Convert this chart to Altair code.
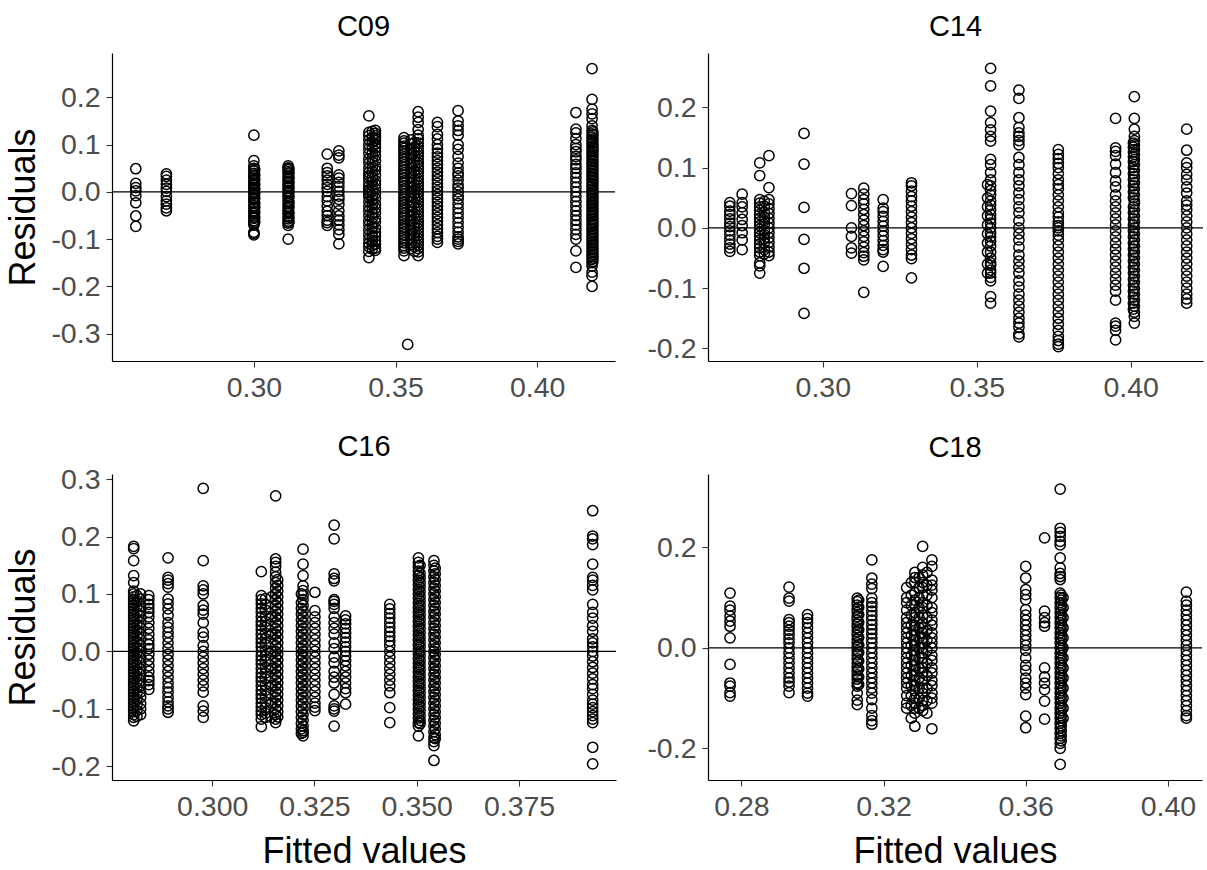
import altair as alt
import pandas as pd

# ---------------- data ----------------
c09_fitted = [0.2583, 0.2691, 0.3000, 0.3121, 0.3259, 0.3300, 0.3406, 0.3429,
              0.3530, 0.3543, 0.3555, 0.3580, 0.3648, 0.3721, 0.4137, 0.4194,
              0.3003, 0.3124, 0.3418, 0.3567, 0.4197]
c09_resid = [
    [0.049, 0.018, 0.009, 0.002, -0.008, -0.023, -0.051, -0.073],
    [0.038, 0.033, 0.025, 0.016, 0.008, 0.001, -0.01, -0.019, -0.026, -0.034, -0.04],
    [0.12, 0.066, 0.055, 0.05, 0.044, 0.039, 0.034, 0.029, 0.024, 0.019, 0.014, 0.009, 0.004, 0.0,
     -0.005, -0.011, -0.016, -0.022, -0.029, -0.035, -0.04, -0.046, -0.051, -0.056, -0.061, -0.066,
     -0.07, -0.085, -0.088, -0.091],
    [0.055, 0.051, 0.047, 0.043, 0.038, 0.033, 0.028, 0.023, 0.018, 0.013, 0.008, 0.003, -0.002,
     -0.007, -0.013, -0.019, -0.025, -0.03, -0.036, -0.041, -0.046, -0.052, -0.057, -0.062, -0.066,
     -0.071, -0.1],
    [0.08, 0.05, 0.041, 0.034, 0.025, 0.016, 0.009, 0.001, -0.01, -0.019, -0.03, -0.041, -0.05,
     -0.06, -0.065, -0.071],
    [0.087, 0.078, 0.072, 0.036, 0.029, 0.02, 0.011, 0.001, -0.009, -0.016, -0.026, -0.04, -0.051,
     -0.06, -0.07, -0.08, -0.09, -0.11],
    [0.161, 0.126, 0.119, 0.11, 0.1, 0.091, 0.081, 0.07, 0.061, 0.05, 0.041, 0.034, 0.029, 0.02,
     0.011, 0.004, -0.001, -0.006, -0.011, -0.021, -0.031, -0.04, -0.05, -0.061, -0.07, -0.08,
     -0.09, -0.1, -0.109, -0.116, -0.126, -0.139],
    [0.13, 0.124, 0.119, 0.114, 0.109, 0.101, 0.094, 0.086, 0.076, 0.066, 0.054, 0.046, 0.036,
     0.024, 0.016, 0.006, -0.004, -0.014, -0.026, -0.035, -0.044, -0.056, -0.064, -0.076, -0.086,
     -0.094, -0.104, -0.111, -0.119, -0.124],
    [0.115, 0.108, 0.103, 0.097, 0.092, 0.086, 0.08, 0.074, 0.069, 0.063, 0.057, 0.052, 0.046,
     0.04, 0.035, 0.029, 0.023, 0.018, 0.012, 0.006, 0.001, -0.005, -0.011, -0.016, -0.022, -0.028,
     -0.034, -0.039, -0.045, -0.051, -0.056, -0.062, -0.068, -0.074, -0.079, -0.085, -0.091,
     -0.097, -0.102, -0.108, -0.114, -0.119, -0.125, -0.135],
    [-0.323],
    [0.11, 0.101, 0.091, 0.08, 0.071, 0.06, 0.051, 0.04, 0.031, 0.02, 0.01, 0.0, -0.009, -0.021,
     -0.03, -0.041, -0.05, -0.061, -0.07, -0.081, -0.09, -0.1, -0.111, -0.12],
    [0.17, 0.158, 0.147, 0.132, 0.12, 0.112, 0.104, 0.097, 0.09, 0.083, 0.076, 0.069, 0.062, 0.055,
     0.048, 0.041, 0.034, 0.027, 0.02, 0.013, 0.006, -0.001, -0.008, -0.015, -0.022, -0.029,
     -0.036, -0.043, -0.05, -0.057, -0.064, -0.071, -0.078, -0.085, -0.092, -0.099, -0.106,
     -0.113, -0.12, -0.127, -0.135],
    [0.147, 0.138, 0.122, 0.112, 0.1, 0.091, 0.082, 0.074, 0.066, 0.058, 0.05, 0.042, 0.034, 0.026,
     0.018, 0.01, 0.002, -0.006, -0.014, -0.022, -0.03, -0.038, -0.046, -0.054, -0.062, -0.07,
     -0.078, -0.086, -0.094, -0.1, -0.107],
    [0.172, 0.15, 0.14, 0.13, 0.12, 0.1, 0.09, 0.075, 0.061, 0.05, 0.04, 0.034, 0.025, 0.015, 0.008,
     0.0, -0.008, -0.015, -0.025, -0.035, -0.045, -0.055, -0.065, -0.075, -0.085, -0.095, -0.1,
     -0.105, -0.11],
    [0.168, 0.133, 0.125, 0.113, 0.1, 0.092, 0.085, 0.075, 0.068, 0.058, 0.05, 0.04, 0.03, 0.02,
     0.01, 0.0, -0.01, -0.02, -0.03, -0.04, -0.05, -0.06, -0.07, -0.08, -0.09, -0.1, -0.125, -0.16],
    [0.261, 0.196, 0.175, 0.165, 0.155, 0.14, 0.13, 0.123, 0.116, 0.109, 0.102, 0.095, 0.088,
     0.081, 0.074, 0.067, 0.06, 0.053, 0.046, 0.039, 0.032, 0.025, 0.018, 0.011, 0.004, -0.003,
     -0.01, -0.017, -0.024, -0.031, -0.038, -0.045, -0.052, -0.059, -0.066, -0.073, -0.08, -0.087,
     -0.094, -0.101, -0.108, -0.115, -0.122, -0.129, -0.136, -0.143, -0.15, -0.157, -0.17, -0.178,
     -0.2],
    [0.047, 0.036, 0.026, 0.016, 0.006, -0.003, -0.013, -0.024, -0.033, -0.043, -0.054, -0.064],
    [0.049, 0.04, 0.03, 0.02, 0.01, 0.0, -0.01, -0.022, -0.032, -0.044, -0.054, -0.064],
    [0.128, 0.116, 0.105, 0.095, 0.083, 0.072, 0.063, 0.052, 0.043, 0.031, 0.022, 0.013, 0.002,
     -0.009, -0.017, -0.026, -0.036, -0.046, -0.055, -0.066, -0.075, -0.085, -0.095, -0.104,
     -0.113, -0.121],
    [0.105, 0.095, 0.085, 0.075, 0.065, 0.055, 0.045, 0.036, 0.026, 0.015, 0.005, -0.004, -0.014,
     -0.025, -0.035, -0.046, -0.056, -0.066, -0.075, -0.085, -0.095, -0.106, -0.116, -0.126],
    [0.127, 0.12, 0.112, 0.105, 0.098, 0.091, 0.085, 0.078, 0.071, 0.064, 0.057, 0.05, 0.043,
     0.036, 0.029, 0.022, 0.015, 0.007, 0.0, -0.007, -0.014, -0.021, -0.028, -0.035, -0.042,
     -0.049, -0.056, -0.063, -0.07, -0.077, -0.084, -0.091, -0.098, -0.105, -0.112, -0.119,
     -0.126, -0.133, -0.14, -0.147],
]

c14_fitted = [0.2698, 0.2738, 0.2795, 0.2825, 0.2939, 0.3093, 0.3133, 0.3196, 0.3288,
              0.3535, 0.3545, 0.3637, 0.3765, 0.3951, 0.4012, 0.4182, 0.2810, 0.4009]
c14_resid = [
    [0.042, 0.036, 0.028, 0.022, 0.015, 0.008, 0.002, -0.005, -0.012, -0.02, -0.027, -0.033, -0.039],
    [0.056, 0.042, 0.035, 0.025, 0.014, 0.004, -0.008, -0.02, -0.036],
    [0.108, 0.087, 0.047, 0.041, 0.035, 0.029, 0.022, 0.016, 0.01, 0.004, -0.002, -0.008, -0.014,
     -0.02, -0.027, -0.033, -0.04, -0.046, -0.058, -0.063, -0.075],
    [0.12, 0.067, 0.047, 0.04, 0.032, 0.024, 0.016, 0.008, 0.0, -0.008, -0.016, -0.024, -0.032,
     -0.04, -0.046],
    [0.157, 0.106, 0.034, -0.019, -0.067, -0.142],
    [0.057, 0.037, 0.0, -0.014, -0.033, -0.042],
    [0.066, 0.056, 0.047, 0.04, 0.031, 0.022, 0.013, 0.004, -0.005, -0.014, -0.023, -0.032, -0.041,
     -0.047, -0.053, -0.107],
    [0.047, 0.033, 0.027, 0.019, 0.011, 0.003, -0.005, -0.013, -0.021, -0.029, -0.036, -0.04, -0.064],
    [0.075, 0.07, 0.061, 0.052, 0.045, 0.036, 0.027, 0.018, 0.009, 0.0, -0.009, -0.018, -0.027,
     -0.036, -0.045, -0.051, -0.083],
    [0.072, 0.05, 0.035, 0.02, 0.005, -0.01, -0.025, -0.04, -0.06, -0.075],
    [0.265, 0.236, 0.194, 0.175, 0.163, 0.152, 0.144, 0.114, 0.105, 0.092, 0.08, 0.07, 0.062, 0.055,
     0.045, 0.038, 0.03, 0.022, 0.015, 0.008, 0.0, -0.008, -0.015, -0.022, -0.03, -0.04, -0.05,
     -0.058, -0.062, -0.07, -0.075, -0.082, -0.088, -0.114, -0.125],
    [0.229, 0.215, 0.183, 0.167, 0.158, 0.152, 0.145, 0.138, 0.117, 0.105, 0.092, 0.08, 0.07, 0.058,
     0.047, 0.035, 0.025, 0.012, 0.0, -0.01, -0.02, -0.032, -0.045, -0.055, -0.065, -0.075, -0.088,
     -0.098, -0.11, -0.12, -0.13, -0.14, -0.15, -0.158, -0.165, -0.176, -0.181],
    [0.13, 0.122, 0.115, 0.107, 0.1, 0.09, 0.08, 0.072, 0.065, 0.055, 0.045, 0.035, 0.025, 0.018,
     0.01, 0.004, 0.0, -0.005, -0.012, -0.02, -0.03, -0.04, -0.05, -0.06, -0.07, -0.08, -0.09, -0.1,
     -0.11, -0.12, -0.13, -0.14, -0.15, -0.16, -0.17, -0.18, -0.187, -0.193, -0.197],
    [0.182, 0.133, 0.127, 0.12, 0.106, 0.092, 0.078, 0.068, 0.055, 0.045, 0.035, 0.025, 0.015,
     0.005, -0.005, -0.015, -0.025, -0.035, -0.045, -0.055, -0.065, -0.075, -0.085, -0.095, -0.105,
     -0.12, -0.158, -0.163, -0.17, -0.186],
    [0.218, 0.182, 0.164, 0.152, 0.145, 0.138, 0.13, 0.122, 0.114, 0.105, 0.095, 0.085, 0.075,
     0.065, 0.055, 0.045, 0.04, 0.03, 0.02, 0.01, 0.0, -0.01, -0.02, -0.03, -0.04, -0.05, -0.06,
     -0.07, -0.08, -0.09, -0.1, -0.11, -0.12, -0.13, -0.14, -0.147, -0.158],
    [0.164, 0.129, 0.108, 0.1, 0.089, 0.08, 0.068, 0.058, 0.045, 0.038, 0.03, 0.02, 0.01, 0.0,
     -0.01, -0.02, -0.03, -0.04, -0.05, -0.06, -0.07, -0.08, -0.09, -0.1, -0.11, -0.118, -0.125],
    [0.044, 0.036, 0.026, 0.018, 0.012, 0.006, -0.004, -0.011, -0.018, -0.025, -0.036, -0.043],
    [0.141, 0.134, 0.126, 0.118, 0.11, 0.1, 0.09, 0.08, 0.07, 0.06, 0.05, 0.035, 0.025, 0.015,
     0.005, -0.005, -0.015, -0.025, -0.035, -0.045, -0.055, -0.065, -0.075, -0.085, -0.095, -0.105,
     -0.115, -0.125, -0.135],
]

c16_fitted = [0.2808, 0.2825, 0.2845, 0.2892, 0.2978, 0.3120, 0.3145, 0.3155, 0.3222, 0.3251,
              0.3298, 0.3326, 0.3434, 0.3504, 0.3542, 0.3930,
              0.2816, 0.3130, 0.3160, 0.3218, 0.3508, 0.3545]
c16_resid = [
    [0.183, 0.179, 0.158, 0.132, 0.12, 0.105, 0.1, 0.095, 0.09, 0.085, 0.08, 0.075, 0.07, 0.065,
     0.06, 0.055, 0.05, 0.045, 0.04, 0.035, 0.03, 0.025, 0.02, 0.015, 0.01, 0.005, 0.0, -0.005,
     -0.01, -0.015, -0.02, -0.025, -0.03, -0.035, -0.04, -0.045, -0.05, -0.055, -0.06, -0.065,
     -0.07, -0.075, -0.08, -0.085, -0.09, -0.095, -0.1, -0.105, -0.11, -0.115, -0.121],
    [0.1, 0.091, 0.079, 0.07, 0.061, 0.05, 0.041, 0.03, 0.021, 0.01, 0.0, -0.011, -0.02, -0.031,
     -0.04, -0.051, -0.06, -0.071, -0.08, -0.091, -0.1, -0.11],
    [0.097, 0.09, 0.082, 0.075, 0.068, 0.06, 0.05, 0.04, 0.03, 0.02, 0.012, 0.005, -0.005, -0.015,
     -0.025, -0.035, -0.045, -0.051, -0.058, -0.066],
    [0.163, 0.129, 0.124, 0.118, 0.112, 0.091, 0.083, 0.074, 0.063, 0.05, 0.042, 0.033, 0.025,
     0.015, 0.005, -0.005, -0.015, -0.025, -0.035, -0.045, -0.055, -0.063, -0.071, -0.08, -0.088,
     -0.095, -0.1, -0.106],
    [0.284, 0.158, 0.114, 0.107, 0.1, 0.08, 0.072, 0.065, 0.05, 0.033, 0.025, 0.01, 0.0, -0.01,
     -0.02, -0.03, -0.04, -0.05, -0.06, -0.071, -0.095, -0.104, -0.115],
    [0.139, 0.097, 0.09, 0.083, 0.075, 0.068, 0.06, 0.052, 0.045, 0.038, 0.03, 0.022, 0.015, 0.008,
     0.0, -0.008, -0.015, -0.022, -0.03, -0.038, -0.045, -0.052, -0.06, -0.068, -0.075, -0.082,
     -0.09, -0.097, -0.104, -0.11, -0.118, -0.131],
    [0.095, 0.06, 0.03, 0.0, -0.03, -0.06, -0.09, -0.115],
    [0.271, 0.161, 0.155, 0.148, 0.138, 0.13, 0.12, 0.11, 0.1, 0.09, 0.08, 0.07, 0.06, 0.05, 0.04,
     0.03, 0.02, 0.01, 0.0, -0.01, -0.02, -0.03, -0.04, -0.05, -0.06, -0.07, -0.08, -0.09, -0.1,
     -0.11, -0.118, -0.124],
    [0.178, 0.152, 0.132, 0.114, 0.106, 0.098, 0.09, 0.08, 0.07, 0.06, 0.05, 0.04, 0.03, 0.02, 0.01,
     0.0, -0.01, -0.02, -0.03, -0.04, -0.05, -0.06, -0.07, -0.08, -0.09, -0.1, -0.11, -0.12, -0.13,
     -0.138, -0.141, -0.147],
    [0.103, 0.071, 0.06, 0.05, 0.04, 0.03, 0.02, 0.01, 0.0, -0.01, -0.02, -0.03, -0.04, -0.05,
     -0.06, -0.07, -0.08, -0.09, -0.097, -0.103],
    [0.22, 0.196, 0.135, 0.127, 0.123, 0.09, 0.087, 0.082, 0.075, 0.06, 0.05, 0.04, 0.03, 0.015,
     0.005, -0.01, -0.02, -0.035, -0.045, -0.055, -0.075, -0.095, -0.1, -0.104, -0.13],
    [0.062, 0.055, 0.048, 0.04, 0.032, 0.024, 0.016, 0.008, 0.0, -0.008, -0.016, -0.025, -0.035,
     -0.045, -0.055, -0.065, -0.072, -0.092],
    [0.082, 0.074, 0.066, 0.058, 0.05, 0.042, 0.034, 0.026, 0.018, 0.01, 0.0, -0.01, -0.02, -0.03,
     -0.04, -0.05, -0.06, -0.072, -0.098, -0.124],
    [0.163, 0.155, 0.148, 0.14, 0.132, 0.124, 0.116, 0.108, 0.1, 0.092, 0.084, 0.076, 0.068, 0.06,
     0.052, 0.044, 0.036, 0.028, 0.02, 0.012, 0.004, -0.004, -0.012, -0.02, -0.028, -0.036, -0.044,
     -0.052, -0.06, -0.068, -0.076, -0.084, -0.092, -0.1, -0.108, -0.116, -0.124, -0.13, -0.147],
    [0.158, 0.15, 0.14, 0.13, 0.12, 0.11, 0.1, 0.09, 0.08, 0.07, 0.06, 0.05, 0.04, 0.03, 0.02, 0.01,
     0.0, -0.01, -0.02, -0.03, -0.04, -0.05, -0.06, -0.07, -0.08, -0.09, -0.1, -0.11, -0.12, -0.13,
     -0.14, -0.15, -0.157, -0.164, -0.19],
    [0.245, 0.201, 0.196, 0.186, 0.152, 0.129, 0.124, 0.115, 0.107, 0.082, 0.068, 0.058, 0.045,
     0.035, 0.022, 0.015, 0.008, 0.0, -0.008, -0.018, -0.028, -0.038, -0.048, -0.058, -0.065,
     -0.075, -0.085, -0.092, -0.098, -0.105, -0.112, -0.118, -0.124, -0.167, -0.196],
    [0.097, 0.088, 0.078, 0.067, 0.057, 0.047, 0.037, 0.027, 0.017, 0.007, -0.003, -0.013, -0.023,
     -0.033, -0.043, -0.053, -0.063, -0.073, -0.083, -0.093, -0.103, -0.113],
    [0.092, 0.082, 0.072, 0.062, 0.052, 0.042, 0.032, 0.022, 0.012, 0.002, -0.008, -0.018, -0.028,
     -0.038, -0.048, -0.058, -0.068, -0.078, -0.088, -0.098, -0.108, -0.115],
    [0.125, 0.115, 0.105, 0.095, 0.085, 0.075, 0.065, 0.055, 0.045, 0.035, 0.025, 0.015, 0.005,
     -0.005, -0.015, -0.025, -0.035, -0.045, -0.055, -0.065, -0.075, -0.085, -0.095, -0.105, -0.114],
    [0.1, 0.085, 0.075, 0.065, 0.055, 0.045, 0.035, 0.025, 0.015, 0.005, -0.005, -0.015, -0.025,
     -0.035, -0.045, -0.055, -0.065, -0.075, -0.085, -0.095, -0.105, -0.115, -0.125, -0.135, -0.143],
    [0.15, 0.136, 0.128, 0.12, 0.112, 0.104, 0.096, 0.088, 0.08, 0.072, 0.064, 0.056, 0.048, 0.04,
     0.032, 0.024, 0.016, 0.008, 0.0, -0.008, -0.016, -0.024, -0.032, -0.04, -0.048, -0.056, -0.064,
     -0.072, -0.08, -0.088, -0.096, -0.104, -0.112, -0.12, -0.126],
    [0.145, 0.135, 0.125, 0.115, 0.105, 0.095, 0.085, 0.075, 0.065, 0.055, 0.045, 0.035, 0.025,
     0.015, 0.005, -0.005, -0.015, -0.025, -0.035, -0.045, -0.055, -0.065, -0.075, -0.085, -0.095,
     -0.105, -0.115, -0.125, -0.135, -0.145, -0.152],
]

c18_fitted = [0.2768, 0.2934, 0.2986, 0.3126, 0.3167, 0.3265, 0.3288, 0.3310, 0.3336,
              0.3600, 0.3653, 0.3697, 0.3705, 0.4052,
              0.3130, 0.3278, 0.3300, 0.3322, 0.3700]
c18_resid = [
    [0.109, 0.083, 0.075, 0.063, 0.053, 0.043, 0.02, -0.033, -0.07, -0.076, -0.089, -0.096],
    [0.121, 0.099, 0.093, 0.056, 0.05, 0.043, 0.035, 0.027, 0.018, 0.01, 0.0, -0.01, -0.02, -0.03,
     -0.04, -0.05, -0.06, -0.068, -0.076, -0.089],
    [0.066, 0.058, 0.05, 0.04, 0.03, 0.02, 0.01, 0.0, -0.01, -0.02, -0.03, -0.04, -0.05, -0.06,
     -0.07, -0.08, -0.09, -0.096],
    [0.099, 0.092, 0.085, 0.077, 0.07, 0.062, 0.055, 0.047, 0.04, 0.032, 0.025, 0.017, 0.01, 0.002,
     -0.006, -0.014, -0.022, -0.03, -0.038, -0.046, -0.054, -0.062, -0.07, -0.076, -0.09, -0.104,
     -0.113],
    [0.175, 0.139, 0.127, 0.118, 0.099, 0.09, 0.082, 0.073, 0.064, 0.055, 0.046, 0.037, 0.028,
     0.019, 0.01, 0.0, -0.01, -0.02, -0.03, -0.04, -0.05, -0.06, -0.07, -0.08, -0.09, -0.103,
     -0.12, -0.135, -0.145, -0.152],
    [0.12, 0.1, 0.09, 0.075, 0.06, 0.05, 0.04, 0.03, 0.02, 0.01, 0.0, -0.01, -0.02, -0.03, -0.04,
     -0.05, -0.06, -0.07, -0.08, -0.095, -0.11, -0.12],
    [0.15, 0.14, 0.13, 0.11, 0.095, 0.085, 0.07, 0.06, 0.045, 0.035, 0.025, 0.015, 0.005, -0.005,
     -0.015, -0.025, -0.035, -0.045, -0.055, -0.065, -0.075, -0.085, -0.1, -0.11, -0.12, -0.13,
     -0.156],
    [0.202, 0.16, 0.145, 0.13, 0.12, 0.105, 0.09, 0.08, 0.065, 0.05, 0.04, 0.03, 0.02, 0.01, 0.0,
     -0.01, -0.02, -0.03, -0.04, -0.05, -0.065, -0.08, -0.09, -0.105, -0.115, -0.125],
    [0.175, 0.162, 0.135, 0.125, 0.115, 0.1, 0.08, 0.07, 0.055, 0.045, 0.03, 0.02, 0.01, 0.0,
     -0.015, -0.025, -0.04, -0.05, -0.065, -0.075, -0.09, -0.1, -0.11, -0.161],
    [0.162, 0.139, 0.116, 0.106, 0.096, 0.076, 0.065, 0.055, 0.045, 0.035, 0.025, 0.015, 0.005,
     -0.005, -0.02, -0.035, -0.045, -0.06, -0.07, -0.08, -0.093, -0.136, -0.159],
    [0.219, 0.073, 0.06, 0.05, 0.043, -0.04, -0.058, -0.07, -0.083, -0.106, -0.142],
    [0.316, 0.238, 0.23, 0.222, 0.212, 0.205, 0.179, 0.159, 0.148, 0.142, 0.136, 0.109, 0.1, 0.09,
     0.08, 0.07, 0.06, 0.05, 0.04, 0.03, 0.02, 0.01, 0.0, -0.01, -0.02, -0.03, -0.04, -0.05, -0.06,
     -0.07, -0.08, -0.09, -0.1, -0.11, -0.12, -0.13, -0.14, -0.15, -0.16, -0.17, -0.18, -0.19,
     -0.2, -0.232],
    [0.1, 0.08, 0.06, 0.04, 0.02, 0.0, -0.02, -0.04, -0.06, -0.08, -0.1, -0.12, -0.14],
    [0.111, 0.093, 0.085, 0.075, 0.065, 0.055, 0.045, 0.035, 0.025, 0.015, 0.005, -0.005, -0.015,
     -0.025, -0.035, -0.045, -0.055, -0.065, -0.075, -0.085, -0.095, -0.105, -0.115, -0.125,
     -0.135, -0.14],
    [0.095, 0.081, 0.066, 0.051, 0.036, 0.021, 0.006, -0.009, -0.026, -0.042, -0.058, -0.073],
    [0.13, 0.105, 0.085, 0.065, 0.045, 0.025, 0.005, -0.015, -0.035, -0.055, -0.075, -0.095,
     -0.115, -0.14],
    [0.14, 0.12, 0.1, 0.08, 0.06, 0.04, 0.02, 0.0, -0.02, -0.04, -0.06, -0.08, -0.1, -0.12],
    [0.15, 0.125, 0.105, 0.085, 0.06, 0.035, 0.015, -0.005, -0.03, -0.055, -0.08, -0.105, -0.13],
    [0.105, 0.095, 0.085, 0.075, 0.065, 0.055, 0.045, 0.035, 0.025, 0.015, 0.005, -0.005, -0.015,
     -0.025, -0.035, -0.045, -0.055, -0.065, -0.075, -0.085, -0.095, -0.105, -0.115, -0.125,
     -0.135, -0.145, -0.155, -0.165, -0.175, -0.185],
]

FONT = "Liberation Sans"


def panel(title, fitted, resid, xdom, ydom, xticks, yticks, xfmt, w, h, xtitle, ytitle, toff):
    rows = [(f, r) for f, rs in zip(fitted, resid) for r in rs]
    df = pd.DataFrame(rows, columns=["fitted", "resid"])
    xaxis = dict(values=xticks, format=xfmt, labelFlush=False, labelOverlap=False,
                 title=xtitle if xtitle else None)
    yaxis = dict(values=yticks, format=".1f", labelFlush=False, labelOverlap=False,
                 title=ytitle if ytitle else None)
    pts = alt.Chart(df).mark_point(
        shape="circle", filled=False, color="black", size=105, strokeWidth=1.5, opacity=1
    ).encode(
        x=alt.X("fitted:Q", scale=alt.Scale(domain=xdom, nice=False, zero=False),
                axis=alt.Axis(**xaxis)),
        y=alt.Y("resid:Q", scale=alt.Scale(domain=ydom, nice=False, zero=False),
                axis=alt.Axis(**yaxis)),
    )
    rule = alt.Chart(pd.DataFrame({"resid": [0.0]})).mark_rule(
        color="black", strokeWidth=1.2
    ).encode(y="resid:Q")
    return alt.layer(pts, rule).properties(
        width=w, height=h,
        title=alt.TitleParams(text=title, frame="group", anchor="middle", fontSize=29,
                              font=FONT, fontWeight="normal", color="black",
                              baseline="alphabetic", offset=toff),
    )


p09 = panel("C09", c09_fitted, c09_resid, [0.2499, 0.4275], [-0.358, 0.294],
            [0.30, 0.35, 0.40], [-0.3, -0.2, -0.1, 0.0, 0.1, 0.2], ".2f", 503, 308, "",
            "Residuals", -12)
p14 = panel("C14", c14_fitted, c14_resid, [0.2627, 0.4235], [-0.221, 0.2905],
            [0.30, 0.35, 0.40], [-0.2, -0.1, 0.0, 0.1, 0.2], ".2f", 495, 308, "", "", -12)
p16 = panel("C16", c16_fitted, c16_resid, [0.2755, 0.3987], [-0.224, 0.309],
            [0.300, 0.325, 0.350, 0.375], [-0.2, -0.1, 0.0, 0.1, 0.2, 0.3], ".3f", 504, 306,
            "Fitted values", "Residuals", -20)
p18 = panel("C18", c18_fitted, c18_resid, [0.2706, 0.4096], [-0.263, 0.346],
            [0.28, 0.32, 0.36, 0.40], [-0.2, 0.0, 0.2], ".2f", 494, 306, "Fitted values", "", -12)

chart = alt.concat(
    p09, p14, p16, p18, columns=2, bounds="flush",
    spacing={"row": 113, "column": 92}
).properties(
    padding={"left": 5, "top": 13, "right": 0, "bottom": 0}
).configure(
    locale={"number": {"decimal": ".", "thousands": ",", "grouping": [3],
                       "currency": ["$", ""], "minus": "-"}}
).configure_view(stroke=None).configure_axis(
    grid=False, domainColor="black", domainWidth=1.2, tickColor="#333333", tickWidth=1.1,
    tickSize=6, labelFont=FONT, labelFontSize=28.5, labelColor="#4D4D4D", labelPadding=6,
    titleFont=FONT, titleFontSize=36, titleColor="black", titleFontWeight="normal",
    titlePadding=6
).configure_axisY(titlePadding=8).configure_axisX(titlePadding=14)

chart.save("out.html", embed_options={"renderer": "svg", "actions": False})
